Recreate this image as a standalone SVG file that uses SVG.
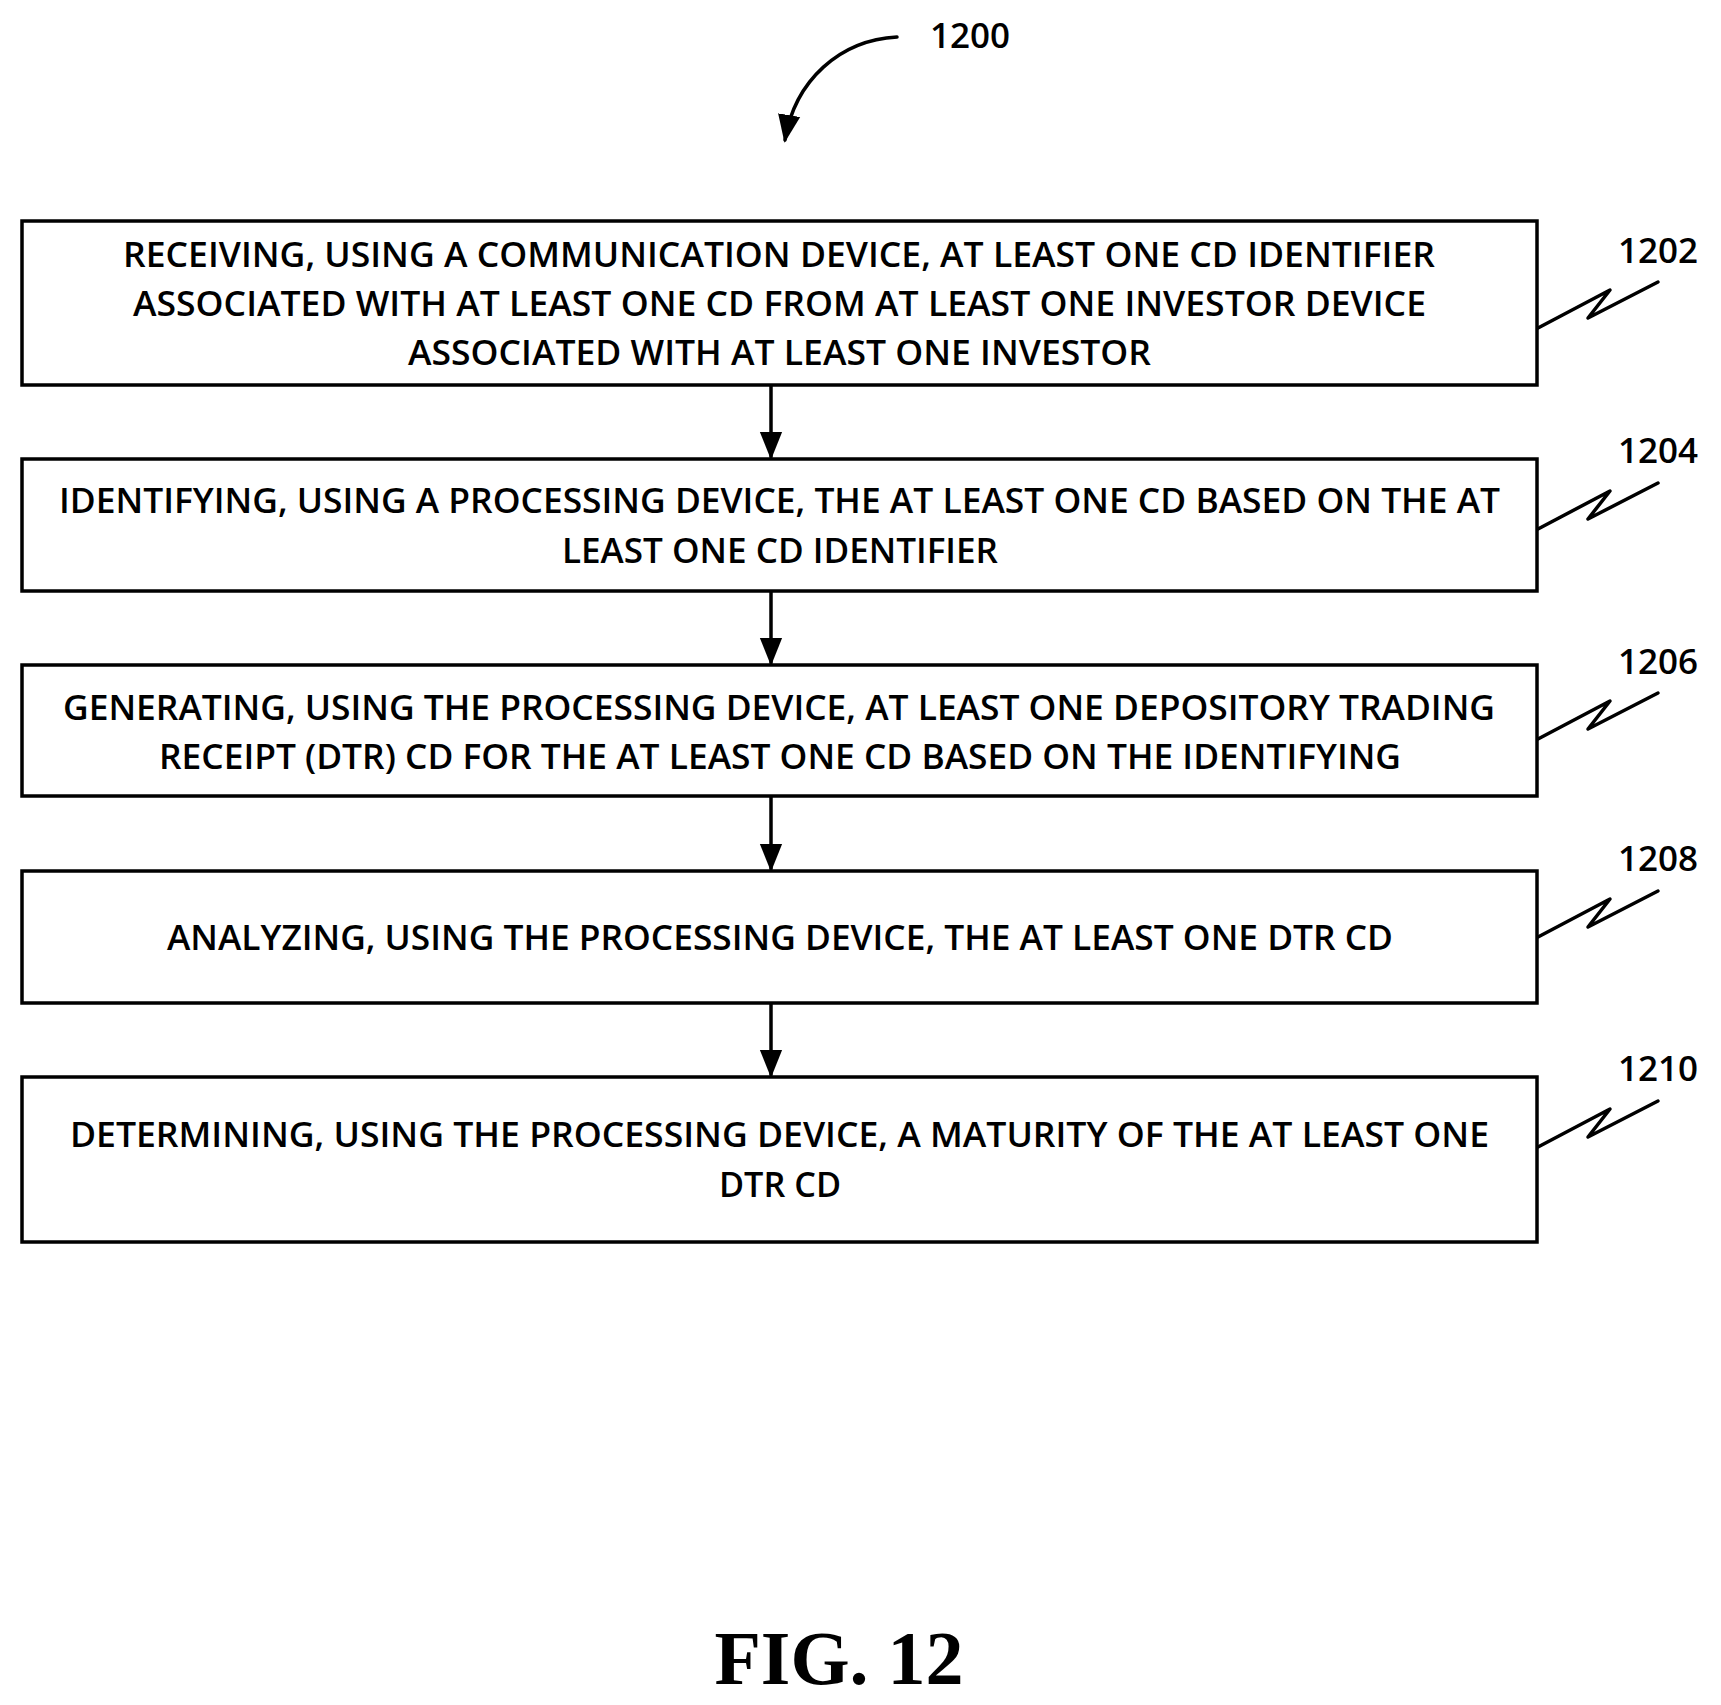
<svg xmlns="http://www.w3.org/2000/svg" width="1721" height="1705" viewBox="0 0 1721 1705">
<style>
.box{fill:#fff;stroke:#000;stroke-width:3.5}
.t{font-family:"Open Sans",sans-serif;font-size:35px;font-weight:600;fill:#000}
.lbl{font-family:"Open Sans",sans-serif;font-size:35px;font-weight:600;fill:#000}
.ln{fill:none;stroke:#000;stroke-width:3.5;stroke-linejoin:round;stroke-linecap:round}
</style>
<defs>
<marker id="ah2" viewBox="0 0 10 10" refX="9" refY="5" markerWidth="28" markerHeight="28" orient="auto" markerUnits="userSpaceOnUse"><path d="M0,1 L10,5 L0,9 Z" fill="#000"/></marker>
</defs>
<g id="title">
<text class="lbl" x="930" y="48">1200</text>
<path class="ln" d="M897,37 C840,40 795,80 785,140" marker-end="url(#ah2)"/>
</g>
<g id="connectors">
<line class="ln" x1="771" y1="386" x2="771" y2="457" marker-end="url(#ah2)"/>
<line class="ln" x1="771" y1="592" x2="771" y2="663" marker-end="url(#ah2)"/>
<line class="ln" x1="771" y1="797" x2="771" y2="869" marker-end="url(#ah2)"/>
<line class="ln" x1="771" y1="1004" x2="771" y2="1075" marker-end="url(#ah2)"/>
</g>
<g id="n1202">
<rect class="box" x="22" y="221" width="1515" height="164"/>
<text class="t" x="123" y="267" textLength="1312" lengthAdjust="spacingAndGlyphs">RECEIVING, USING A COMMUNICATION DEVICE, AT LEAST ONE CD IDENTIFIER</text>
<text class="t" x="133" y="316" textLength="1293" lengthAdjust="spacingAndGlyphs">ASSOCIATED WITH AT LEAST ONE CD FROM AT LEAST ONE INVESTOR DEVICE</text>
<text class="t" x="408" y="365" textLength="743" lengthAdjust="spacingAndGlyphs">ASSOCIATED WITH AT LEAST ONE INVESTOR</text>
<text class="lbl" x="1618" y="263">1202</text>
<path class="ln" d="M1538,328 L1610,290 L1588,318 L1658,282"/>
</g>
<g id="n1204">
<rect class="box" x="22" y="459" width="1515" height="132"/>
<text class="t" x="59" y="513" textLength="1441" lengthAdjust="spacingAndGlyphs">IDENTIFYING, USING A PROCESSING DEVICE, THE AT LEAST ONE CD BASED ON THE AT</text>
<text class="t" x="562" y="563" textLength="436" lengthAdjust="spacingAndGlyphs">LEAST ONE CD IDENTIFIER</text>
<text class="lbl" x="1618" y="463">1204</text>
<path class="ln" d="M1538,529 L1610,491 L1588,519 L1658,483"/>
</g>
<g id="n1206">
<rect class="box" x="22" y="665" width="1515" height="131"/>
<text class="t" x="63" y="720" textLength="1432" lengthAdjust="spacingAndGlyphs">GENERATING, USING THE PROCESSING DEVICE, AT LEAST ONE DEPOSITORY TRADING</text>
<text class="t" x="159" y="769" textLength="1242" lengthAdjust="spacingAndGlyphs">RECEIPT (DTR) CD FOR THE AT LEAST ONE CD BASED ON THE IDENTIFYING</text>
<text class="lbl" x="1618" y="674">1206</text>
<path class="ln" d="M1538,739 L1610,701 L1588,729 L1658,693"/>
</g>
<g id="n1208">
<rect class="box" x="22" y="871" width="1515" height="132"/>
<text class="t" x="167" y="950" textLength="1226" lengthAdjust="spacingAndGlyphs">ANALYZING, USING THE PROCESSING DEVICE, THE AT LEAST ONE DTR CD</text>
<text class="lbl" x="1618" y="871">1208</text>
<path class="ln" d="M1538,937 L1610,899 L1588,927 L1658,891"/>
</g>
<g id="n1210">
<rect class="box" x="22" y="1077" width="1515" height="165"/>
<text class="t" x="70" y="1147" textLength="1419" lengthAdjust="spacingAndGlyphs">DETERMINING, USING THE PROCESSING DEVICE, A MATURITY OF THE AT LEAST ONE</text>
<text class="t" x="719" y="1197" textLength="122" lengthAdjust="spacingAndGlyphs">DTR CD</text>
<text class="lbl" x="1618" y="1081">1210</text>
<path class="ln" d="M1538,1147 L1610,1109 L1588,1137 L1658,1101"/>
</g>
<text x="839" y="1684" text-anchor="middle" font-family="Liberation Serif, serif" font-weight="bold" font-size="76">FIG. 12</text>
</svg>
